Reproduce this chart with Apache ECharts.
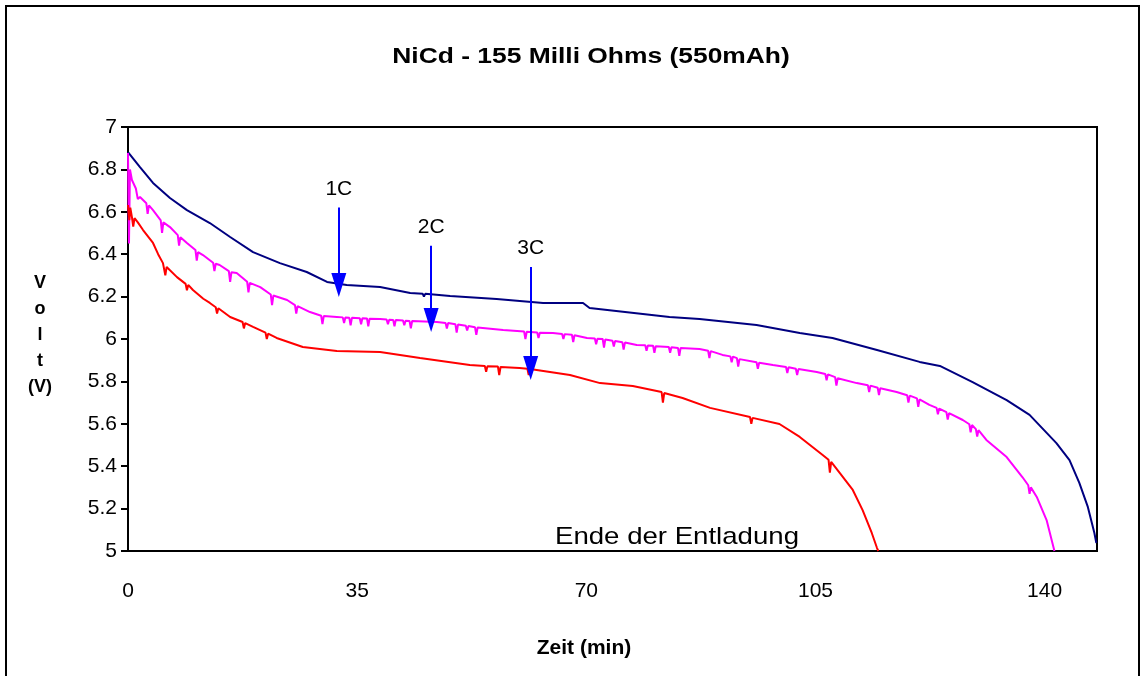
<!DOCTYPE html>
<html>
<head>
<meta charset="utf-8">
<script src="https://cdn.jsdelivr.net/npm/echarts@6/dist/echarts.min.js"></script>
<style>html,body{margin:0;padding:0;background:#fff}#c{width:1145px;height:676px}</style>
</head>
<body>
<div id="c"></div>
<script>
const titleText = 'NiCd - 155 Milli Ohms (550mAh)';
const xTitle = 'Zeit (min)';
const yTitle = 'V\no\nl\nt\n(V)';
const endText = 'Ende der Entladung';
const xTicks = [0, 35, 70, 105, 140];
const yTicks = [5, 5.2, 5.4, 5.6, 5.8, 6, 6.2, 6.4, 6.6, 6.8, 7];

// 1C discharge (navy)
const series1C = [[0,6.882],[1.83,6.811],[3.82,6.736],[6.41,6.665],[9.0,6.608],[12.5,6.547],[15.6,6.481],[19.1,6.410],[23.2,6.358],[27.3,6.316],[30.4,6.269],[33.4,6.255],[38.5,6.245],[43.1,6.217],[45.0,6.214],[45.2,6.200],[45.4,6.213],[49.2,6.203],[56.3,6.189],[63.4,6.170],[69.5,6.170],[70.5,6.146],[76.6,6.125],[82.7,6.104],[87.3,6.094],[96.0,6.066],[102.6,6.028],[107.6,6.005],[114.4,5.948],[120.9,5.892],[124.0,5.873],[129.0,5.797],[134.2,5.712],[137.7,5.642],[141.8,5.509],[143.8,5.429],[145.3,5.321],[146.6,5.208],[147.6,5.085],[147.9,5.038]];

// 2C discharge (magenta)
const series2C = [[0,6.877],[0.15,6.45],[0.3,6.80],[0.6,6.75],[1.2,6.71],[1.5,6.66],[1.83,6.67],[2.8,6.64],[3.0,6.59],[3.2,6.63],[3.82,6.608],[5.0,6.56],[5.2,6.50],[5.4,6.55],[6.41,6.528],[7.6,6.49],[7.8,6.44],[8.0,6.48],[9.0,6.453],[10.3,6.42],[10.5,6.37],[10.7,6.41],[11.45,6.396],[13.0,6.36],[13.2,6.32],[13.4,6.355],[14.0,6.349],[15.4,6.32],[15.6,6.27],[15.8,6.315],[16.6,6.311],[18.2,6.27],[18.4,6.22],[18.6,6.265],[20.2,6.245],[21.8,6.21],[22.0,6.16],[22.2,6.205],[24.3,6.184],[25.5,6.16],[25.7,6.12],[25.9,6.155],[27.8,6.127],[29.5,6.11],[29.7,6.07],[29.9,6.108],[31.9,6.104],[32.8,6.102],[33.0,6.075],[33.2,6.101],[33.8,6.10],[34.0,6.065],[34.2,6.10],[35.4,6.098],[35.6,6.07],[35.8,6.098],[36.5,6.097],[36.7,6.06],[36.9,6.096],[38.5,6.094],[39.5,6.092],[39.7,6.07],[39.9,6.091],[40.5,6.09],[40.7,6.06],[40.9,6.09],[42.0,6.087],[42.2,6.065],[42.4,6.086],[43.0,6.085],[43.2,6.05],[43.4,6.085],[47.2,6.08],[48.5,6.076],[48.7,6.05],[48.9,6.075],[50.0,6.07],[50.2,6.03],[50.4,6.068],[51.6,6.062],[51.8,6.04],[52.0,6.061],[53.0,6.055],[53.2,6.02],[53.4,6.054],[57.3,6.042],[60.5,6.035],[60.7,6.00],[60.9,6.034],[62.5,6.031],[62.7,6.005],[62.9,6.030],[64.9,6.028],[66.3,6.024],[66.5,6.00],[66.7,6.023],[67.8,6.02],[68.0,5.985],[68.2,6.018],[70.1,6.005],[71.3,6.002],[71.5,5.975],[71.7,6.001],[72.5,6.00],[72.7,5.96],[72.9,5.998],[74.0,5.992],[74.2,5.965],[74.4,5.991],[75.5,5.985],[75.7,5.95],[75.9,5.983],[77.7,5.972],[79.0,5.970],[79.2,5.945],[79.4,5.969],[80.2,5.968],[80.4,5.935],[80.6,5.966],[82.6,5.962],[82.8,5.935],[83.0,5.961],[84.0,5.958],[84.2,5.92],[84.4,5.957],[87.3,5.953],[88.6,5.945],[88.8,5.91],[89.0,5.943],[90.8,5.925],[92.0,5.918],[92.2,5.89],[92.4,5.917],[93.0,5.91],[93.2,5.87],[93.4,5.905],[96.0,5.89],[96.2,5.86],[96.4,5.888],[98.5,5.877],[100.5,5.868],[100.7,5.84],[100.9,5.867],[102.0,5.86],[102.2,5.83],[102.4,5.858],[105.2,5.844],[106.5,5.835],[106.7,5.805],[106.9,5.833],[108.0,5.82],[108.2,5.78],[108.4,5.815],[111.3,5.792],[113.0,5.782],[113.2,5.75],[113.4,5.780],[114.5,5.77],[114.7,5.735],[114.9,5.768],[117.4,5.75],[119.0,5.735],[119.2,5.70],[119.4,5.733],[120.5,5.72],[120.7,5.68],[120.9,5.715],[122.4,5.689],[123.5,5.675],[123.7,5.645],[123.9,5.672],[125.0,5.655],[125.2,5.62],[125.4,5.65],[127.5,5.618],[128.5,5.598],[128.7,5.56],[128.9,5.594],[129.5,5.575],[129.7,5.54],[129.9,5.57],[131.1,5.524],[134.2,5.443],[136.6,5.349],[137.5,5.31],[137.7,5.27],[137.9,5.30],[138.8,5.255],[140.3,5.146],[141.5,5.0]];

// 3C discharge (red)
const series3C = [[0,6.632],[0.2,6.56],[0.35,6.62],[0.6,6.575],[0.8,6.53],[1.0,6.57],[1.5,6.55],[2.3,6.514],[3.82,6.453],[4.6,6.40],[5.34,6.358],[5.7,6.30],[5.9,6.34],[7.48,6.292],[8.8,6.26],[9.0,6.23],[9.2,6.255],[9.92,6.231],[11.5,6.19],[12.5,6.17],[13.4,6.15],[13.6,6.12],[13.8,6.145],[15.6,6.104],[17.5,6.08],[17.7,6.05],[17.9,6.075],[19.1,6.057],[21.0,6.03],[21.2,6.00],[21.4,6.025],[22.7,6.005],[26.7,5.962],[31.9,5.943],[38.5,5.939],[44.6,5.91],[52.2,5.877],[54.5,5.873],[54.7,5.845],[54.9,5.872],[56.5,5.87],[56.7,5.83],[56.9,5.868],[59.8,5.863],[61.0,5.86],[61.2,5.83],[61.4,5.858],[67.5,5.83],[72.1,5.792],[77.1,5.778],[81.5,5.75],[81.7,5.70],[81.9,5.745],[84.7,5.722],[88.9,5.675],[95.0,5.632],[95.2,5.60],[95.4,5.628],[99.5,5.599],[102.6,5.538],[106.1,5.453],[107.0,5.43],[107.2,5.37],[107.4,5.42],[108.7,5.368],[110.7,5.288],[112.2,5.193],[113.6,5.085],[114.4,5.014],[114.6,5.0]];

// arrow annotations
const arrowLabels = ['1C', '2C', '3C'];
const arrowX = [32.2, 46.3, 61.5];
const arrowTop = [6.62, 6.44, 6.34];
const arrowTip = [6.255, 6.09, 5.863];

const FONT = '"Liberation Sans", Arial, sans-serif';
const chart = echarts.init(document.getElementById('c'));

const arrowData = arrowLabels.map((l, i) => [
  { coord: [arrowX[i], arrowTop[i]], label: { formatter: l } },
  { coord: [arrowX[i], arrowTip[i]] }
]);

chart.setOption({
  animation: false,
  backgroundColor: '#fff',
  grid: { left: 128, right: 48, top: 127, bottom: 125, show: true, borderColor: '#000', borderWidth: 2, backgroundColor: '#fff' },
  xAxis: {
    type: 'value', min: 0, max: 148, interval: 35,
    axisLine: { show: true, lineStyle: { color: '#000', width: 2 } },
    axisTick: { show: false },
    splitLine: { show: false },
    axisLabel: { margin: 30, fontFamily: FONT, fontSize: 21, color: '#000', customValues: xTicks }
  },
  yAxis: {
    type: 'value', min: 5, max: 7, interval: 0.2,
    axisLine: { show: true, lineStyle: { color: '#000', width: 2 } },
    axisTick: { show: true, inside: false, length: 7, lineStyle: { color: '#000', width: 2 } },
    splitLine: { show: false },
    axisLabel: { margin: 11, fontFamily: FONT, fontSize: 21, color: '#000',
      customValues: yTicks, formatter: v => String(Math.round(v * 10) / 10) }
  },
  series: [
    { name: '1C', type: 'line', data: series1C, showSymbol: false, symbol: 'none',
      lineStyle: { color: '#000080', width: 2 }, z: 3 },
    { name: '2C', type: 'line', data: series2C, showSymbol: false, symbol: 'none',
      lineStyle: { color: '#FF00FF', width: 2 }, z: 3 },
    { name: '3C', type: 'line', data: series3C, showSymbol: false, symbol: 'none',
      lineStyle: { color: '#FF0000', width: 2 }, z: 3,
      markLine: {
        silent: true, animation: false,
        symbol: ['none', 'triangle'], symbolSize: [15, 24], symbolRotate: 180,
        lineStyle: { color: '#0000FF', width: 2, type: 'solid' },
        label: { show: true, position: 'start', distance: 8, fontFamily: FONT, fontSize: 21, color: '#000' },
        data: arrowData
      }
    }
  ],
  graphic: [
    { type: 'rect', shape: { x: 6, y: 6, width: 1133, height: 700 }, style: { fill: null, stroke: '#000', lineWidth: 2 }, silent: true, z: -1 },
    { type: 'text', x: 591, y: 57, scaleX: 1.2, style: { text: titleText, font: 'bold 22px ' + FONT, fill: '#000', align: 'center', verticalAlign: 'middle' }, z: 10 },
    { type: 'text', x: 584, y: 648, scaleX: 1.05, style: { text: xTitle, font: 'bold 20px ' + FONT, fill: '#000', align: 'center', verticalAlign: 'middle' }, z: 10 },
    { type: 'text', x: 677, y: 537, scaleX: 1.15, style: { text: endText, font: '24px ' + FONT, fill: '#000', align: 'center', verticalAlign: 'middle' }, z: 10 },
    { type: 'text', x: 40, y: 270, style: { text: yTitle, font: 'bold 18px ' + FONT, fill: '#000', align: 'center', lineHeight: 26 }, z: 10 }
  ]
});
</script>
</body>
</html>
